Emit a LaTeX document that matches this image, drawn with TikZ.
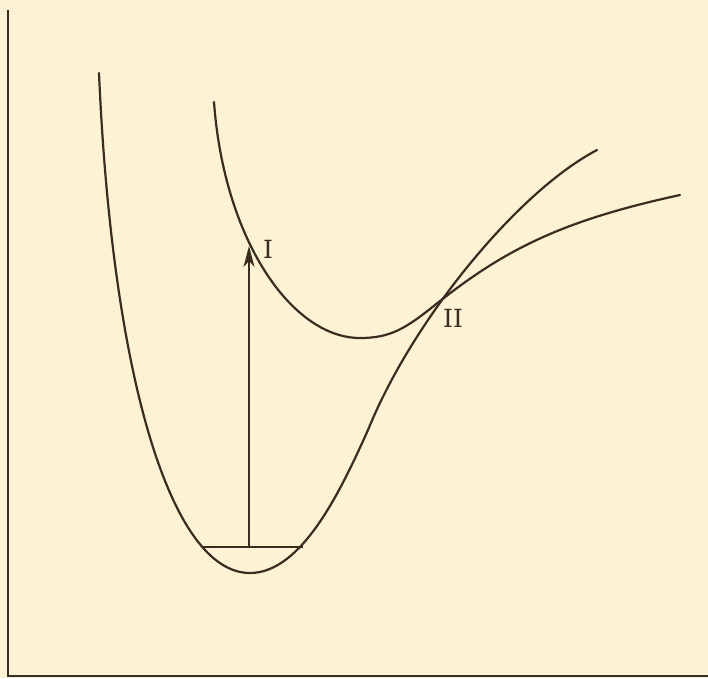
\documentclass[tikz,border=0pt]{standalone}
\usepackage{fontspec}
\newfontfamily\labfont{DejaVu Serif}
\usetikzlibrary{arrows.meta}
\definecolor{paper}{RGB}{251,243,211}
\definecolor{ink}{RGB}{55,45,32}
\begin{document}
\begin{tikzpicture}[x=1pt,y=-1pt,
  curve/.style={draw=ink,line width=2.2pt,line cap=round,line join=round},
  axis/.style={draw=ink,line width=2.6pt},
  thin/.style={draw=ink,line width=1.3pt},
  lab/.style={text=ink,font=\labfont\fontsize{25}{25}\selectfont,inner sep=0pt}]
\fill[paper] (0,0) rectangle (708,678);
\useasboundingbox (0,0) rectangle (708,678);
% axes
\coordinate (top) at (8,10);
\coordinate (origin) at (8,676);
\coordinate (right) at (708,676);
\draw[axis] (top) -- (origin) -- (right);
% ground state potential curve
\coordinate (gA) at (99,73);
\coordinate (gB) at (250,573);
\coordinate (gC) at (368,430);
\coordinate (gD) at (597,150);
\draw[curve] (gA) .. controls (112,373) and (170,573) .. (gB)
  .. controls (302,573) and (341,490) .. (gC)
  .. controls (412,321) and (517,192) .. (gD);
% excited state potential curve
\coordinate (eA) at (214,102);
\coordinate (eB) at (360,338);
\coordinate (eC) at (435,305);
\coordinate (eD) at (680,195);
\draw[curve] (eA) .. controls (224,240) and (292,338) .. (eB)
  .. controls (390,338) and (405,329) .. (eC)
  .. controls (505,249) and (562.8,220.4) .. (eD);
% vibrational level and transition
\coordinate (lvL) at (202,547);
\coordinate (lvR) at (303,547);
\draw[thin] (lvL) -- (lvR);
\coordinate (v0) at (249,547);
\coordinate (v1) at (249,246);
\draw[thin,-{Stealth[length=21pt,width=11pt,inset=6pt]}] (v0) -- (v1);
% labels
\node[lab] (I) at (268,249) {I};
\node[lab] (II) at (453,318) {II};
\end{tikzpicture}
\end{document}
